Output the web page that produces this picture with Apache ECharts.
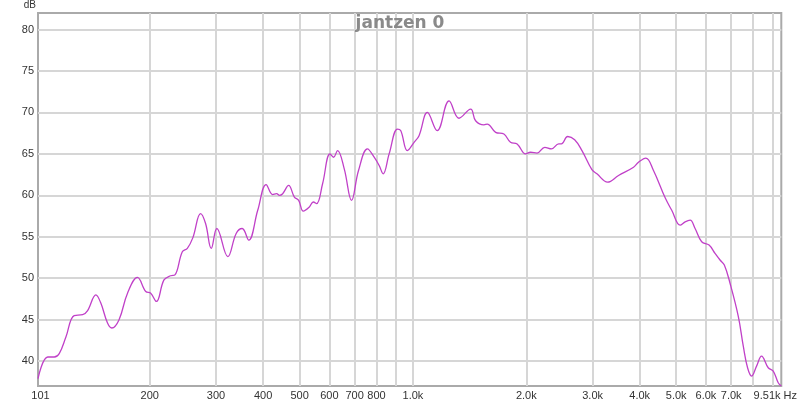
<!DOCTYPE html>
<html>
<head>
<meta charset="utf-8">
<script src="https://cdn.jsdelivr.net/npm/echarts@6/dist/echarts.min.js"></script>
<style>
html,body{margin:0;padding:0;background:#fff;}
#chart{width:800px;height:404px;}
</style>
</head>
<body>
<div id="chart"></div>
<script>
// Frequency response (Hz, dB)
const freqs = [101,107.2,111.6,115.0,119.8,126.0,132.7,136.8,143.9,148.3,154.5,158.6,165.8,174.6,185.5,195.2,201.2,208.3,218.2,227.3,233.3,244.1,251.7,260.4,272.9,281.4,291.3,301.5,322.4,339.3,352.0,366.4,387.1,407.5,424.2,434.7,441.9,450.9,467.7,484.3,497.2,511.6,530.7,543.8,554.9,575.5,602.1,615.5,630.6,657.0,686.9,716.9,757.3,788.9,813.4,833.4,864.5,909.5,928.5,966.6,1007,1038,1092,1160,1247,1325,1423,1467,1544,1575,1658,1744,1816,1891,1991,2052,2136,2239,2332,2438,2479,2576,2688,2811,2987,3080,3288,3515,3853,3972,4153,4353,4675,4867,5123,5282,5446,5614,5845,6115,6342,6539,6713,6951,7311,7538,7738,7929,8175,8428,8780,9052,9332,9510];
const levels = [37.9,40.5,40.5,40.9,42.9,45.5,45.6,46.1,48.0,47.0,44.6,44.0,45.0,48.2,50.1,48.4,48.2,47.2,49.8,50.3,50.4,53.2,53.6,54.9,57.8,56.6,53.6,56.0,52.6,55.4,56.0,54.6,58.2,61.3,60.1,60.2,60.0,60.2,61.2,59.8,59.4,58.1,58.6,59.2,59.0,61.4,65.0,64.6,65.4,63.2,59.4,63.0,65.6,64.6,63.6,62.6,65.0,68.0,67.8,65.4,66.4,67.2,70.0,67.8,71.4,69.3,70.4,69.0,68.5,68.6,67.6,67.4,66.4,66.2,65.0,65.2,65.1,65.8,65.6,66.2,66.2,67.1,66.7,65.4,63.1,62.6,61.6,62.4,63.4,64.0,64.5,63.0,59.7,58.2,56.4,56.8,57.0,56.0,54.4,54.0,53.0,52.2,51.6,49.4,45.4,41.8,39.2,38.2,39.4,40.6,39.2,38.8,37.4,37.0];

// Axis ticks and labels
const xGridValues = [200,300,400,500,600,700,800,900,1000,2000,3000,4000,5000,6000,7000,8000,9000];
const xLabelValues = [101,200,300,400,500,600,700,800,1000,2000,3000,4000,5000,6000,7000,9510];
const xLabelTexts = ['101','200','300','400','500','600','700','800','1.0k','2.0k','3.0k','4.0k','5.0k','6.0k','7.0k','9.51k Hz'];
const yTickValues = [40,45,50,55,60,65,70,75,80];
const titleText = 'jantzen 0';

const seriesData = freqs.map((f, i) => [f, levels[i]]);

const chart = echarts.init(document.getElementById('chart'), null, {renderer: 'canvas'});
chart.setOption({
  animation: false,
  backgroundColor: '#fff',
  title: {
    text: titleText,
    left: 'center',
    top: 10,
    textStyle: {fontFamily: 'DejaVu Sans', fontSize: 17, fontWeight: 'bold', color: '#8a8a8a'}
  },
  grid: {
    left: 38, right: 17, top: 11, bottom: 18,
    show: true,
    backgroundColor: '#fff',
    borderColor: '#aaaaaa',
    borderWidth: 2
  },
  xAxis: {
    type: 'log',
    logBase: 10,
    min: 101,
    max: 9510,
    axisLine: {show: false},
    axisTick: {show: false, customValues: xGridValues},
    splitLine: {show: true, lineStyle: {color: '#d6d6d6', width: 2}},
    axisLabel: {
      customValues: xLabelValues,
      margin: 4,
      fontFamily: 'Liberation Sans',
      fontSize: 11,
      color: '#333',
      formatter: function (v) {
        const i = xLabelValues.findIndex(x => Math.abs(x - v) < 0.5);
        const t = i >= 0 ? xLabelTexts[i] : '';
        if (i === 0) return '{f|' + t + '}';
        if (i === xLabelValues.length - 1) return '{l|' + t + '}';
        return t;
      },
      rich: {
        f: {fontFamily: 'Liberation Sans', fontSize: 11, color: '#333', padding: [0, 0, 0, 5]},
        l: {fontFamily: 'Liberation Sans', fontSize: 11, color: '#333', padding: [0, 12, 0, 0]}
      }
    }
  },
  yAxis: {
    type: 'value',
    min: 37,
    max: 82,
    name: 'dB',
    nameLocation: 'end',
    nameGap: 3,
    nameTextStyle: {fontFamily: 'Liberation Sans', fontSize: 10, color: '#333', align: 'right', padding: [0, 2, 0, 0]},
    axisLine: {show: false},
    axisTick: {show: false, customValues: yTickValues},
    splitLine: {show: true, lineStyle: {color: '#d6d6d6', width: 2}},
    axisLabel: {
      customValues: yTickValues,
      margin: 4,
      fontFamily: 'Liberation Sans',
      fontSize: 11,
      color: '#333'
    }
  },
  series: [{
    type: 'line',
    data: seriesData,
    smooth: 0.4,
    showSymbol: false,
    lineStyle: {color: '#c040c8', width: 1.3},
    clip: true
  }]
});
</script>
</body>
</html>
